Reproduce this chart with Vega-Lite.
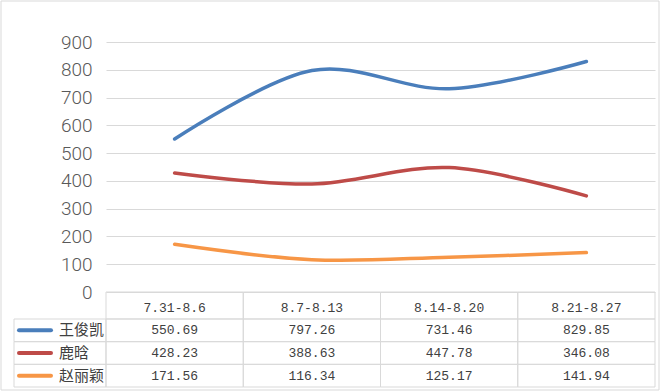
{
  "$schema": "https://vega.github.io/schema/vega-lite/v6.json",
  "width": 549,
  "height": 345,
  "autosize": {"type": "none"},
  "padding": {"left": 106, "top": 42, "right": 5, "bottom": 5},
  "background": "white",
  "config": {"view": {"stroke": null}},
  "datasets": {
    "rows": [
      {"period": "7.31-8.6", "name": "王俊凯", "value": 550.69},
      {"period": "8.7-8.13", "name": "王俊凯", "value": 797.26},
      {"period": "8.14-8.20", "name": "王俊凯", "value": 731.46},
      {"period": "8.21-8.27", "name": "王俊凯", "value": 829.85},
      {"period": "7.31-8.6", "name": "鹿晗", "value": 428.23},
      {"period": "8.7-8.13", "name": "鹿晗", "value": 388.63},
      {"period": "8.14-8.20", "name": "鹿晗", "value": 447.78},
      {"period": "8.21-8.27", "name": "鹿晗", "value": 346.08},
      {"period": "7.31-8.6", "name": "赵丽颖", "value": 171.56},
      {"period": "8.7-8.13", "name": "赵丽颖", "value": 116.34},
      {"period": "8.14-8.20", "name": "赵丽颖", "value": 125.17},
      {"period": "8.21-8.27", "name": "赵丽颖", "value": 141.94}
    ],
    "frame": [{"part": "图表区"}]
  },
  "data": {"name": "rows"},
  "resolve": {"scale": {"x": "independent", "y": "independent"}},
  "layer": [
    {
      "data": {"name": "frame"},
      "mark": {"type": "rect", "fill": null, "stroke": "#d9d9d9", "strokeWidth": 1},
      "encoding": {
        "x": {"field": "part", "type": "nominal", "scale": {"type": "band", "range": [-105, 553], "paddingInner": 0, "paddingOuter": 0}, "axis": null},
        "y": {"field": "part", "type": "nominal", "scale": {"type": "band", "range": [-41, 348], "paddingInner": 0, "paddingOuter": 0}, "axis": null}
      }
    },
    {
      "mark": {"type": "rect", "fill": null, "stroke": "#d9d9d9", "strokeWidth": 1},
      "encoding": {
        "x": {"field": "period", "type": "nominal", "scale": {"type": "band", "domain": ["7.31-8.6", "8.7-8.13", "8.14-8.20", "8.21-8.27"], "paddingInner": 0, "paddingOuter": 0}, "axis": null},
        "y": {"field": "name", "type": "nominal", "scale": {"type": "band", "domain": ["王俊凯", "鹿晗", "赵丽颖"], "range": [277, 345], "paddingInner": 0, "paddingOuter": 0}, "axis": null}
      }
    },
    {
      "mark": {"type": "text", "font": "Liberation Mono", "fontSize": 13, "color": "#404040", "baseline": "middle", "align": "center"},
      "encoding": {
        "x": {"field": "period", "type": "nominal", "bandPosition": 0.5, "scale": {"type": "band", "domain": ["7.31-8.6", "8.7-8.13", "8.14-8.20", "8.21-8.27"], "paddingInner": 0, "paddingOuter": 0}, "axis": null},
        "y": {"field": "name", "type": "nominal", "bandPosition": 0.5, "scale": {"type": "band", "domain": ["王俊凯", "鹿晗", "赵丽颖"], "range": [277, 345], "paddingInner": 0, "paddingOuter": 0}, "axis": null},
        "text": {"field": "value", "type": "quantitative", "format": ".2f"}
      }
    },
    {
      "transform": [{"aggregate": [{"op": "count", "as": "n"}], "groupby": ["period"]}],
      "mark": {"type": "rect", "fill": null, "stroke": "#d9d9d9", "strokeWidth": 1},
      "encoding": {
        "x": {"field": "period", "type": "nominal", "scale": {"type": "band", "domain": ["7.31-8.6", "8.7-8.13", "8.14-8.20", "8.21-8.27"], "paddingInner": 0, "paddingOuter": 0}, "axis": null},
        "y": {"datum": "表头", "type": "nominal", "scale": {"type": "band", "range": [250, 277], "paddingInner": 0, "paddingOuter": 0}, "axis": null}
      }
    },
    {
      "transform": [{"aggregate": [{"op": "count", "as": "n"}], "groupby": ["period"]}],
      "mark": {"type": "text", "font": "Liberation Mono", "fontSize": 13, "color": "#404040", "baseline": "middle", "align": "center", "dy": 2},
      "encoding": {
        "x": {"field": "period", "type": "nominal", "bandPosition": 0.5, "scale": {"type": "band", "domain": ["7.31-8.6", "8.7-8.13", "8.14-8.20", "8.21-8.27"], "paddingInner": 0, "paddingOuter": 0}, "axis": null},
        "y": {"datum": "表头", "type": "nominal", "bandPosition": 0.5, "scale": {"type": "band", "range": [250, 277], "paddingInner": 0, "paddingOuter": 0}, "axis": null},
        "text": {"field": "period", "type": "nominal"}
      }
    },
    {
      "transform": [{"aggregate": [{"op": "count", "as": "n"}], "groupby": ["name"]}],
      "mark": {"type": "rect", "fill": null, "stroke": "#d9d9d9", "strokeWidth": 1},
      "encoding": {
        "x": {"datum": "系列", "type": "nominal", "scale": {"type": "band", "range": [-92, 0], "paddingInner": 0, "paddingOuter": 0}, "axis": null},
        "y": {"field": "name", "type": "nominal", "scale": {"type": "band", "domain": ["王俊凯", "鹿晗", "赵丽颖"], "range": [277, 345], "paddingInner": 0, "paddingOuter": 0}, "axis": null}
      }
    },
    {
      "transform": [{"aggregate": [{"op": "count", "as": "n"}], "groupby": ["name"]}],
      "mark": {"type": "point", "shape": "stroke", "filled": false, "size": 1024, "strokeWidth": 4, "strokeCap": "round", "opacity": 1},
      "encoding": {
        "x": {"datum": "图例", "type": "nominal", "bandPosition": 0.5, "scale": {"type": "band", "range": [-92, -50], "paddingInner": 0, "paddingOuter": 0}, "axis": null},
        "y": {"field": "name", "type": "nominal", "bandPosition": 0.5, "scale": {"type": "band", "domain": ["王俊凯", "鹿晗", "赵丽颖"], "range": [277, 345], "paddingInner": 0, "paddingOuter": 0}, "axis": null},
        "color": {"field": "name", "type": "nominal", "scale": {"domain": ["王俊凯", "鹿晗", "赵丽颖"], "range": ["#4A7EBB", "#BE4B48", "#F79646"]}, "legend": null}
      }
    },
    {
      "transform": [{"aggregate": [{"op": "count", "as": "n"}], "groupby": ["name"]}],
      "mark": {"type": "text", "font": "Noto Sans CJK SC", "fontSize": 15, "color": "#404040", "baseline": "middle", "align": "left"},
      "encoding": {
        "x": {"datum": "名称", "type": "nominal", "bandPosition": 0.5, "scale": {"type": "band", "range": [-48, -46], "paddingInner": 0, "paddingOuter": 0}, "axis": null},
        "y": {"field": "name", "type": "nominal", "bandPosition": 0.5, "scale": {"type": "band", "domain": ["王俊凯", "鹿晗", "赵丽颖"], "range": [277, 345], "paddingInner": 0, "paddingOuter": 0}, "axis": null},
        "text": {"field": "name", "type": "nominal"}
      }
    },
    {
      "mark": {"type": "line", "interpolate": "cardinal", "strokeWidth": 3.5, "strokeCap": "round"},
      "encoding": {
        "x": {"field": "period", "type": "nominal", "bandPosition": 0.5, "scale": {"type": "band", "domain": ["7.31-8.6", "8.7-8.13", "8.14-8.20", "8.21-8.27"], "paddingInner": 0, "paddingOuter": 0}, "axis": null},
        "y": {"field": "value", "type": "quantitative", "scale": {"domain": [0, 900], "range": [250, 0], "nice": false, "zero": true},
          "axis": {"values": [0, 100, 200, 300, 400, 500, 600, 700, 800, 900], "grid": true, "gridColor": "#d9d9d9", "gridWidth": 1, "ticks": false, "domain": false, "title": null, "labelFont": "Roboto", "labelFontWeight": 300, "labelFontSize": 19, "labelColor": "#595959", "labelPadding": 14}},
        "color": {"field": "name", "type": "nominal", "scale": {"domain": ["王俊凯", "鹿晗", "赵丽颖"], "range": ["#4A7EBB", "#BE4B48", "#F79646"]}, "legend": null}
      }
    }
  ]
}
